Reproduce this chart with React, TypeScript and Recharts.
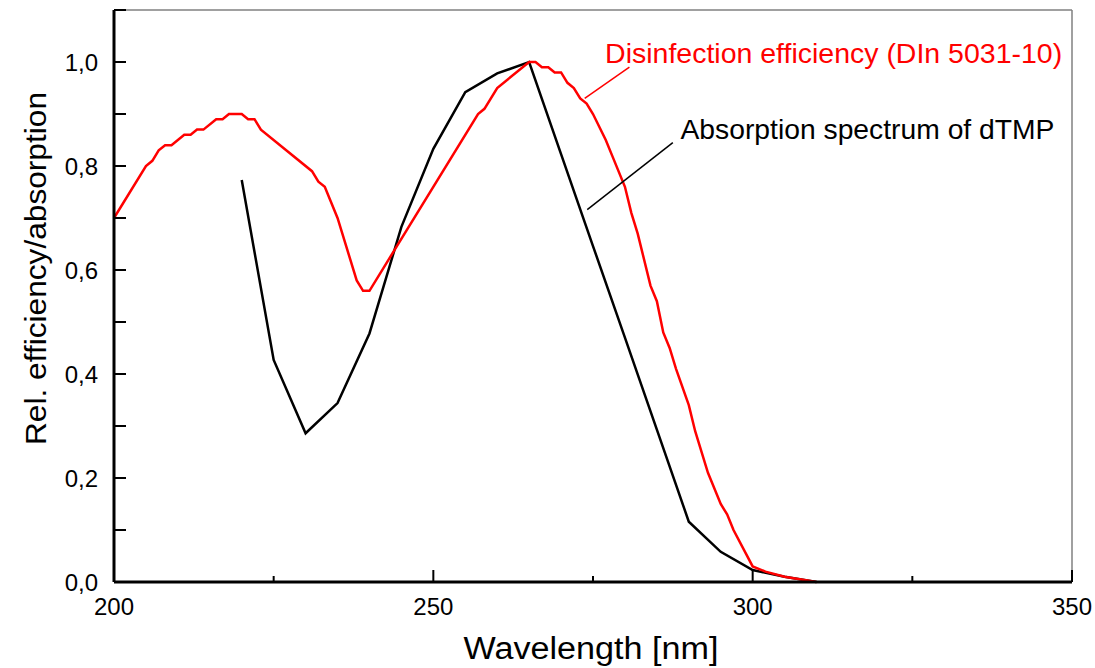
import { LineChart, Line, XAxis, YAxis, ReferenceLine, ReferenceDot, Label } from "recharts"

// disinfection efficiency (DIN 5031-10)
const efficiencyNm = [
  200, 205, 206, 207, 208, 209, 211, 212, 213, 214, 216, 217, 218, 220, 221, 222, 223,
  231, 232, 233, 235, 238, 239, 240, 257, 258, 260, 265, 266, 267, 268, 269, 270, 271,
  272, 273, 274, 275, 277, 278, 280, 281, 282, 284, 285, 286, 287, 288, 290, 291, 293,
  295, 296, 297, 300, 302, 305, 310,
]
const efficiencyValues = [
  0.7, 0.8, 0.81, 0.83, 0.84, 0.84, 0.86, 0.86, 0.87, 0.87, 0.89, 0.89, 0.9, 0.9, 0.89, 0.89, 0.87,
  0.79, 0.77, 0.76, 0.7, 0.58, 0.56, 0.56, 0.9, 0.91, 0.95, 1.0, 1.0, 0.99, 0.99, 0.98, 0.98, 0.96,
  0.95, 0.93, 0.92, 0.9, 0.85, 0.82, 0.76, 0.71, 0.67, 0.57, 0.54, 0.48, 0.45, 0.41, 0.34, 0.29, 0.21,
  0.15, 0.13, 0.1, 0.03, 0.02, 0.01, 0,
]

// absorption spectrum of dTMP (black curve)
const absorptionNm = [220, 225, 230, 235, 240, 245, 250, 255, 260, 265, 270, 275, 280, 285, 290, 295, 300, 305, 310]
const absorptionValues = [
  0.773, 0.427, 0.286, 0.344, 0.478, 0.683, 0.833, 0.942, 0.978, 1.0, 0.823, 0.646, 0.47, 0.293,
  0.116, 0.058, 0.023, 0.01, 0,
]

const xTicks = [200, 225, 250, 275, 300, 325, 350]
const yTicks = [0, 0.1, 0.2, 0.3, 0.4, 0.5, 0.6, 0.7, 0.8, 0.9, 1.0, 1.1]

const efficiencyData = efficiencyNm.map((nm, i) => ({ nm, value: efficiencyValues[i] }))
const absorptionData = absorptionNm.map((nm, i) => ({ nm, value: absorptionValues[i] }))

const font = "'Liberation Sans', Arial, sans-serif"

function XTick(props: any) {
  const { x, y, payload } = props
  const v = payload.value
  const major = v % 50 === 0
  return (
    <g>
      <line x1={x} x2={x} y1={y} y2={y - (major ? 12 : 6)} stroke="#000" strokeWidth={2} />
      {major && (
        <text x={x} y={y + 33} textAnchor="middle" fontSize={24} fontFamily={font} fill="#000">
          {v}
        </text>
      )}
    </g>
  )
}

function YTick(props: any) {
  const { x, y, payload } = props
  const v = payload.value
  const tenth = Math.round(v * 10)
  const labelled = tenth % 2 === 0 && tenth <= 10
  return (
    <g>
      <line x1={x} x2={x + 12} y1={y} y2={y} stroke="#000" strokeWidth={2} />
      {labelled && (
        <text x={x - 16} y={y + 8.5} textAnchor="end" fontSize={24} fontFamily={font} fill="#000">
          {v.toFixed(1).replace(".", ",")}
        </text>
      )}
    </g>
  )
}

function Note({ cx, cy, text, color, len }: any) {
  return (
    <text
      x={cx}
      y={cy}
      dominantBaseline="central"
      fontSize={28}
      fontFamily={font}
      fill={color}
      textLength={len}
      lengthAdjust="spacingAndGlyphs"
    >
      {text}
    </text>
  )
}

export default function App() {
  return (
    <div style={{ position: "absolute", left: 0, top: 0, background: "#fff" }}>
      <LineChart width={1095} height={668} margin={{ top: 10, right: 23, left: 0, bottom: 0 }}>
        <XAxis
          dataKey="nm"
          type="number"
          domain={[200, 350]}
          ticks={xTicks}
          height={86}
          tickSize={0}
          tickMargin={0}
          tickLine={false}
          tick={<XTick />}
          axisLine={{ stroke: "#000", strokeWidth: 3 }}
          allowDuplicatedCategory={false}
        >
          <Label
            content={({ viewBox }: any) => (
              <text
                x={viewBox.x + viewBox.width / 2 - 2}
                y={viewBox.y + 77}
                textAnchor="middle"
                fontSize={31}
                fontFamily={font}
                fill="#000"
                textLength={255}
                lengthAdjust="spacingAndGlyphs"
              >
                Wavelength [nm]
              </text>
            )}
          />
        </XAxis>
        <YAxis
          type="number"
          domain={[0, 1.1]}
          ticks={yTicks}
          width={114}
          tickSize={0}
          tickMargin={0}
          tickLine={false}
          tick={<YTick />}
          axisLine={{ stroke: "#000", strokeWidth: 3 }}
        >
          <Label
            content={({ viewBox }: any) => {
              const cy = viewBox.y + viewBox.height / 2 - 27.5
              return (
                <text
                  x={46}
                  y={cy}
                  transform={`rotate(-90, 46, ${cy})`}
                  textAnchor="middle"
                  fontSize={30}
                  fontFamily={font}
                  fill="#000"
                  textLength={353}
                  lengthAdjust="spacingAndGlyphs"
                >
                  Rel. efficiency/absorption
                </text>
              )
            }}
          />
        </YAxis>
        <ReferenceLine y={1.1} stroke="#808080" strokeWidth={1.5} />
        <ReferenceLine x={350} stroke="#808080" strokeWidth={1.5} />
        <Line
          data={absorptionData}
          dataKey="value"
          type="linear"
          stroke="#000"
          strokeWidth={2.5}
          dot={false}
          isAnimationActive={false}
        />
        <Line
          data={efficiencyData}
          dataKey="value"
          type="linear"
          stroke="#ff0000"
          strokeWidth={2.5}
          dot={false}
          isAnimationActive={false}
        />
        <ReferenceLine
          segment={[{ x: 280.7, y: 0.99 }, { x: 273.7, y: 0.93 }]}
          stroke="#ff0000"
          strokeWidth={1.5}
        />
        <ReferenceLine
          segment={[{ x: 287.5, y: 0.845 }, { x: 274.1, y: 0.716 }]}
          stroke="#000"
          strokeWidth={1.5}
        />
        <ReferenceDot
          x={276.9}
          y={1.017}
          r={0}
          shape={(p: any) => (
            <Note {...p} text="Disinfection efficiency (DIn 5031-10)" color="#ff0000" len={457} />
          )}
        />
        <ReferenceDot
          x={288.7}
          y={0.87}
          r={0}
          shape={(p: any) => <Note {...p} text="Absorption spectrum of dTMP" color="#000" len={374} />}
        />
      </LineChart>
    </div>
  )
}
